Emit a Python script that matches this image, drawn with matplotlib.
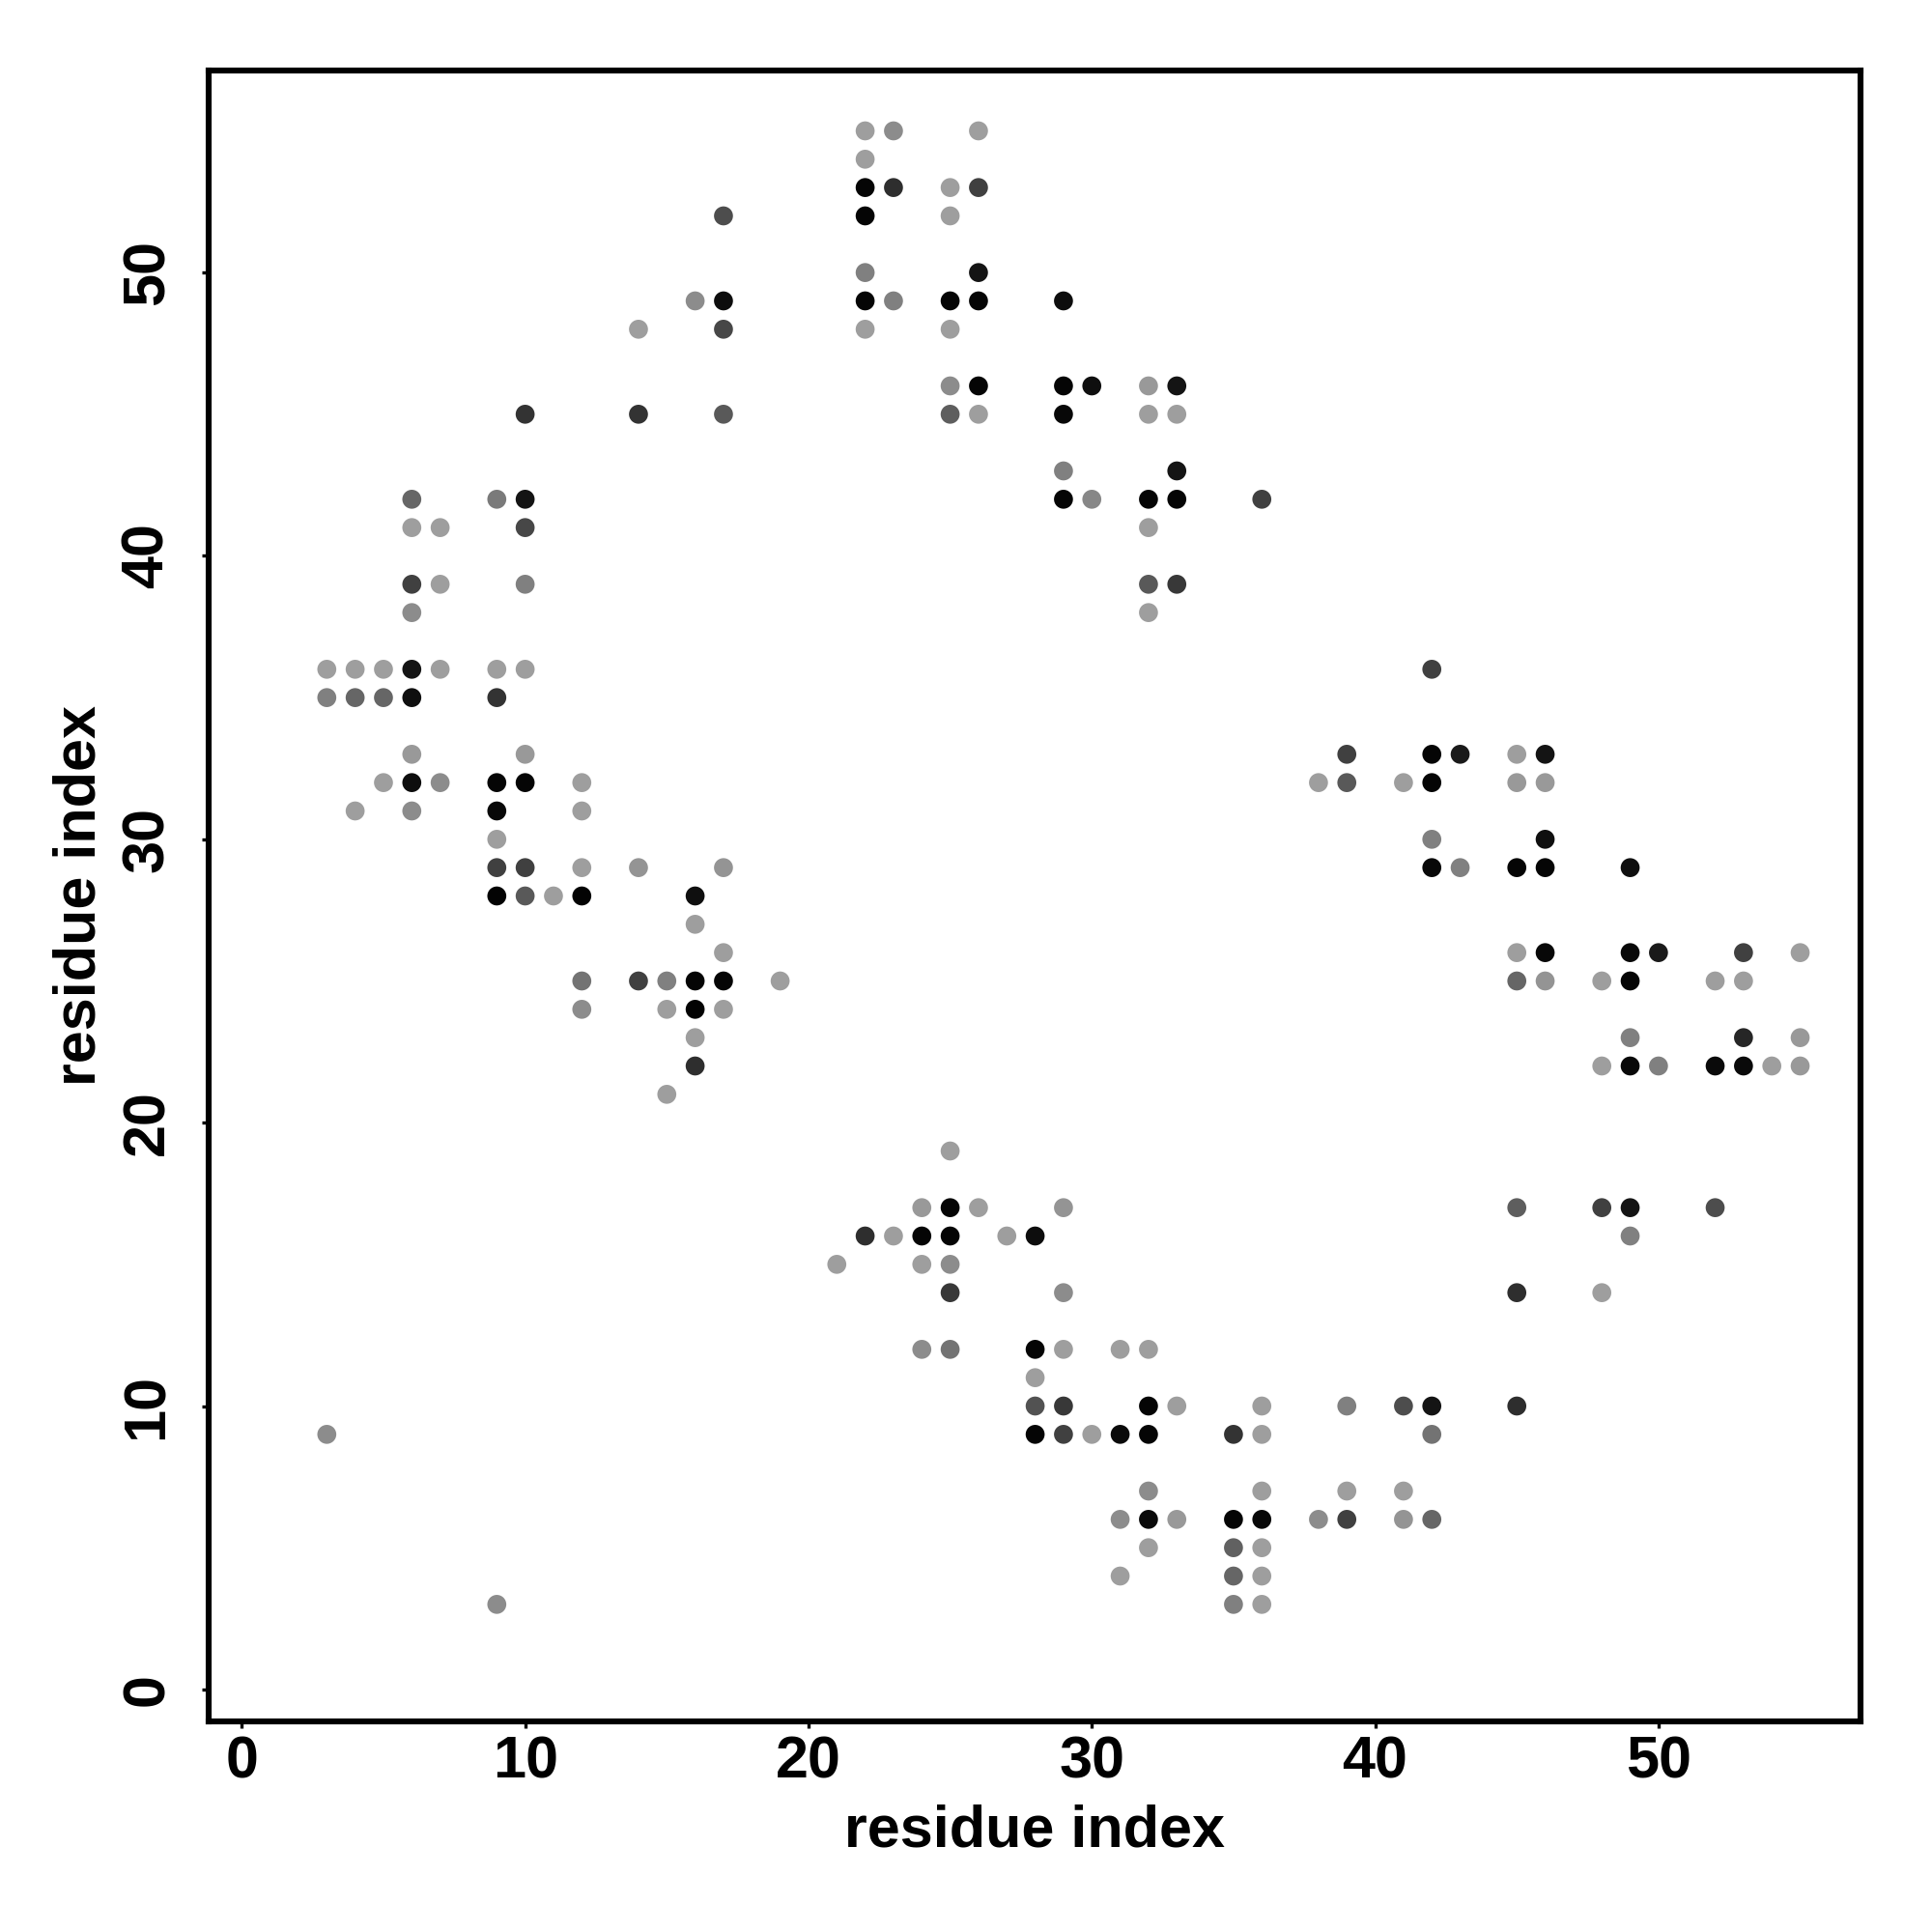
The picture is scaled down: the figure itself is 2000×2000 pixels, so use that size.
import matplotlib
matplotlib.use("Agg")
import matplotlib.pyplot as plt
import numpy as np

# contact pairs (residue i, residue j) and the grey level of each dot (0 = black)
res_i = [22, 23, 26,
         22,
         22, 23, 25, 26,
         17, 22, 25,
         22, 26,
         16, 17, 22, 23, 25, 26, 29,
         14, 17, 22, 25,
         25, 26, 29, 30, 32, 33,
         10, 14, 17, 25, 26, 29, 32, 33,
         29, 33,
         6, 9, 10, 29, 30, 32, 33, 36,
         6, 7, 10, 32,
         6, 7, 10, 32, 33,
         6, 32,
         3, 4, 5, 6, 7, 9, 10, 42,
         3, 4, 5, 6, 9,
         6, 10, 39, 42, 43, 45, 46,
         5, 6, 7, 9, 10, 12, 38, 39, 41, 42, 45, 46,
         4, 6, 9, 12,
         9, 42, 46,
         9, 10, 12, 14, 17, 42, 43, 45, 46, 49,
         9, 10, 11, 12, 16,
         16,
         17, 45, 46, 49, 50, 53, 55,
         12, 14, 15, 16, 17, 19, 45, 46, 48, 49, 52, 53,
         12, 15, 16, 17,
         16, 49, 53, 55,
         16, 48, 49, 50, 52, 53, 54, 55,
         15,
         25,
         24, 25, 26, 29, 45, 48, 49, 52,
         22, 23, 24, 25, 27, 28, 49,
         21, 24, 25,
         25, 29, 45, 48,
         24, 25, 28, 29, 31, 32,
         28,
         28, 29, 32, 33, 36, 39, 41, 42, 45,
         3, 28, 29, 30, 31, 32, 35, 36, 42,
         32, 36, 39, 41,
         31, 32, 33, 35, 36, 38, 39, 41, 42,
         32, 35, 36,
         31, 35, 36,
         9, 35, 36]

res_j = [55, 55, 55,
         54,
         53, 53, 53, 53,
         52, 52, 52,
         50, 50,
         49, 49, 49, 49, 49, 49, 49,
         48, 48, 48, 48,
         46, 46, 46, 46, 46, 46,
         45, 45, 45, 45, 45, 45, 45, 45,
         43, 43,
         42, 42, 42, 42, 42, 42, 42, 42,
         41, 41, 41, 41,
         39, 39, 39, 39, 39,
         38, 38,
         36, 36, 36, 36, 36, 36, 36, 36,
         35, 35, 35, 35, 35,
         33, 33, 33, 33, 33, 33, 33,
         32, 32, 32, 32, 32, 32, 32, 32, 32, 32, 32, 32,
         31, 31, 31, 31,
         30, 30, 30,
         29, 29, 29, 29, 29, 29, 29, 29, 29, 29,
         28, 28, 28, 28, 28,
         27,
         26, 26, 26, 26, 26, 26, 26,
         25, 25, 25, 25, 25, 25, 25, 25, 25, 25, 25, 25,
         24, 24, 24, 24,
         23, 23, 23, 23,
         22, 22, 22, 22, 22, 22, 22, 22,
         21,
         19,
         17, 17, 17, 17, 17, 17, 17, 17,
         16, 16, 16, 16, 16, 16, 16,
         15, 15, 15,
         14, 14, 14, 14,
         12, 12, 12, 12, 12, 12,
         11,
         10, 10, 10, 10, 10, 10, 10, 10, 10,
         9, 9, 9, 9, 9, 9, 9, 9, 9,
         7, 7, 7, 7,
         6, 6, 6, 6, 6, 6, 6, 6, 6,
         5, 5, 5,
         4, 4, 4,
         3, 3, 3]

shade = [.62, .55, .62,
         .62,
         .02, .18, .62, .25,
         .30, .02, .62,
         .50, .08,
         .55, .05, .02, .50, .02, .02, .05,
         .62, .28, .62, .62,
         .55, .02, .02, .06, .60, .08,
         .20, .20, .35, .37, .62, .03, .62, .62,
         .50, .08,
         .40, .48, .08, .02, .53, .02, .02, .25,
         .62, .62, .28, .62,
         .25, .62, .50, .35, .22,
         .55, .62,
         .62, .62, .62, .08, .62, .62, .62, .25,
         .50, .40, .40, .06, .20,
         .60, .60, .25, .02, .10, .62, .08,
         .62, .05, .55, .02, .02, .62, .62, .35, .62, .02, .60, .60,
         .62, .55, .03, .62,
         .62, .50, .06,
         .25, .25, .62, .58, .58, .03, .50, .02, .02, .06,
         .01, .35, .62, .01, .06,
         .62,
         .62, .62, .03, .03, .10, .25, .62,
         .45, .25, .50, .02, .02, .62, .40, .58, .62, .02, .62, .62,
         .55, .62, .01, .62,
         .62, .50, .15, .60,
         .18, .62, .03, .50, .04, .04, .62, .60,
         .62,
         .62,
         .60, .02, .62, .58, .37, .25, .08, .30,
         .18, .62, .02, .02, .62, .05, .50,
         .62, .62, .55,
         .22, .55, .18, .62,
         .55, .45, .02, .62, .62, .62,
         .62,
         .32, .22, .02, .62, .62, .50, .30, .08, .18,
         .55, .02, .25, .62, .04, .02, .20, .62, .45,
         .55, .62, .62, .62,
         .55, .04, .60, .02, .03, .55, .25, .58, .40,
         .62, .38, .62,
         .62, .40, .62,
         .55, .50, .62]

tick_vals = [0, 10, 20, 30, 40, 50]

plt.rcParams['font.family'] = ['Liberation Sans', 'DejaVu Sans']
plt.rcParams['font.weight'] = 'bold'

fig = plt.figure(figsize=(10, 10), dpi=200)
ax = fig.add_axes([0.108, 0.109, 0.855, 0.8545])

colors = [(g, g, g) for g in shade]
ax.scatter(res_i, res_j, s=50, c=colors, edgecolors='none')

ax.set_xlim(-1.17, 57.13)
ax.set_ylim(-1.13, 57.13)
ax.set_xticks(tick_vals)
ax.set_yticks(tick_vals)
ax.set_xticklabels([str(t) for t in tick_vals], fontsize=22, fontweight='bold')
ax.set_yticklabels([str(t) for t in tick_vals], fontsize=22, fontweight='bold',
                   rotation=90, va='center')
ax.tick_params(axis='both', direction='out', length=2.5, width=1.2)
ax.tick_params(axis='x', pad=2.7)
ax.tick_params(axis='y', pad=9.7)

for sp in ax.spines.values():
    sp.set_linewidth(2.2)

ax.set_xlabel('residue index', fontsize=22, fontweight='bold', labelpad=5)
ax.set_ylabel('residue index', fontsize=22, fontweight='bold', labelpad=5)

fig.savefig('out.png', dpi=200, facecolor='white')
